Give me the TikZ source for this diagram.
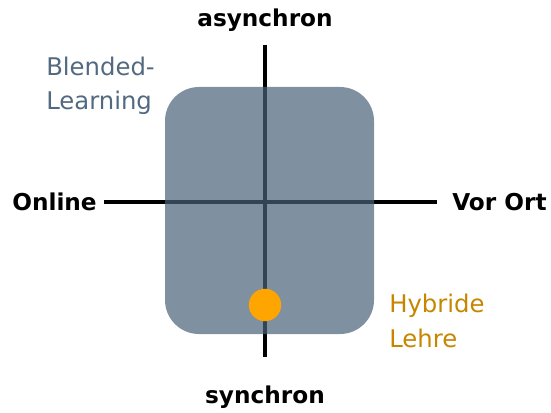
\documentclass[tikz,border=0pt]{standalone}
\usepackage{fontspec}
\setmainfont{DejaVu Sans}
\definecolor{slate}{HTML}{496179}
\definecolor{hybridtext}{HTML}{C68600}
\definecolor{hybriddot}{HTML}{FFA500}
\begin{document}
\begin{tikzpicture}[x=0.025cm, y=-0.025cm]

\useasboundingbox (0,0) rectangle (551,413);

%% styles
\tikzstyle{axis label}=[font=\fontsize{16.5}{19}\selectfont\bfseries, inner sep=0pt, text=black]
\tikzstyle{area label}=[font=\fontsize{17.3}{24.5}\selectfont, align=left, inner sep=0pt, anchor=west]
\tikzstyle{blended box}=[fill=slate, fill opacity=0.7, rounded corners=0.85cm]
\tikzstyle{hybrid dot}=[circle, fill=hybriddot, minimum size=0.81cm, inner sep=0pt]

%% coordinate grid
\def\xmid{265}
\def\ymid{202}

% axis labels
\node[axis label] (async) at (\xmid,20) {asynchron};
\node[axis label] (sync) at (\xmid,397) {synchron};
\node[axis label, anchor=east] (online) at (97,\ymid) {Online};
\node[axis label, anchor=west] (vorort) at (452,\ymid) {Vor Ort};

% axes
\draw[line width=2.8pt, shorten <=13*0.025cm, shorten >=28*0.025cm] (async.south) -- (sync.north);
\draw[line width=2.8pt, shorten <=7*0.025cm, shorten >=15*0.025cm] (online.east) -- (vorort.west);

% blended learning area
\draw[blended box, draw=none] (165,87) rectangle (374,334);
\node[area label, text=slate!95!white] (blend) at (46,86) {Blended-\\Learning};

% hybrid teaching
\node[hybrid dot] (hybrid) at (\xmid,305) {};
\node[area label, text=hybridtext] (hyblabel) at (389,321) {Hybride\\Lehre};

\end{tikzpicture}
\end{document}
